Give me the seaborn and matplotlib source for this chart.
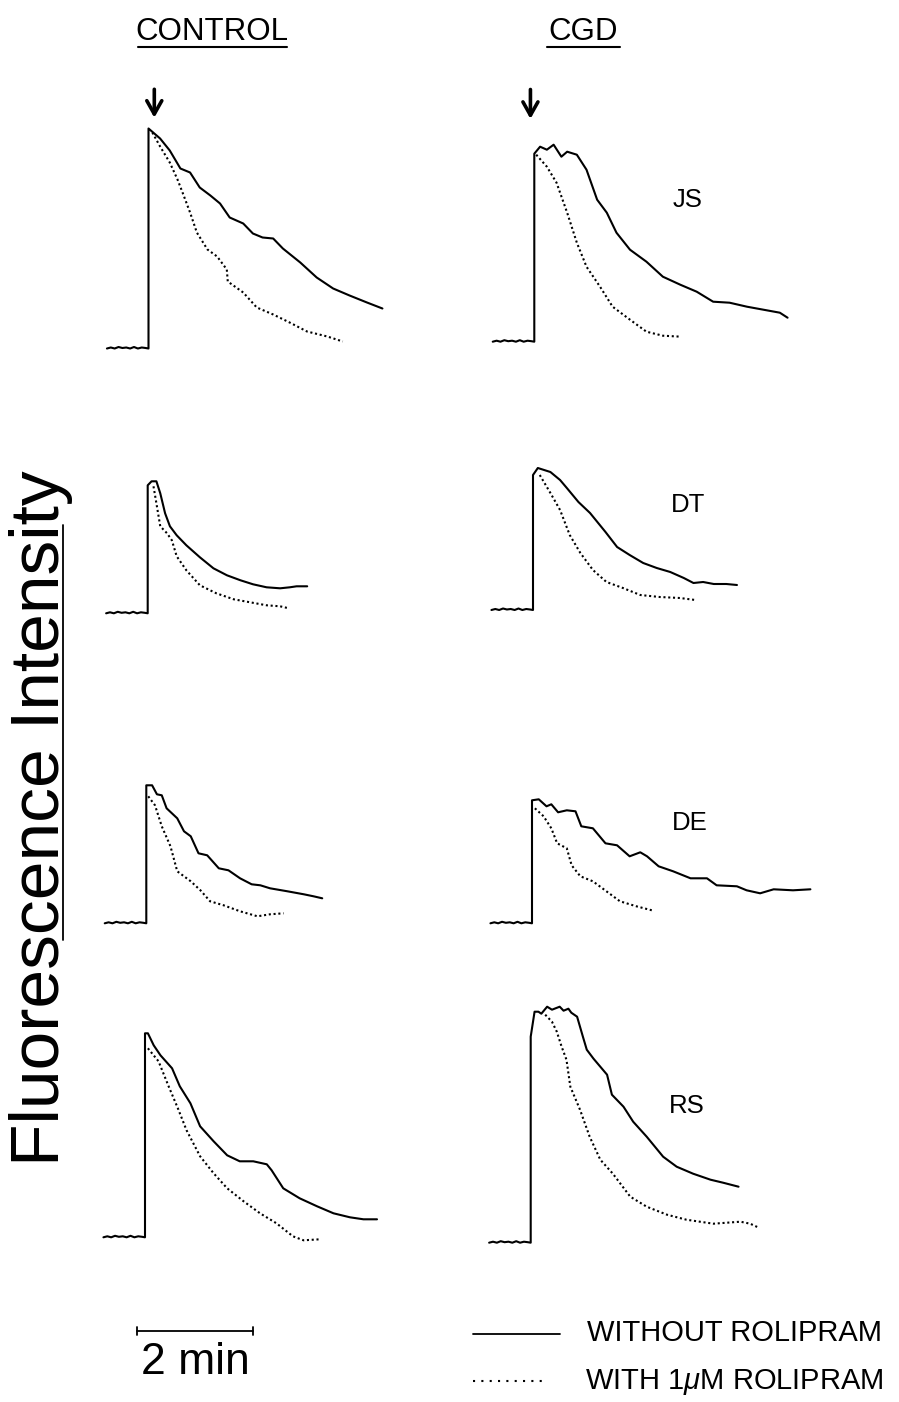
import matplotlib
matplotlib.use('Agg')
import matplotlib.pyplot as plt
import seaborn as sns
from matplotlib.lines import Line2D

sns.set_theme(style='white')
plt.rcParams['font.family'] = ['Liberation Sans', 'DejaVu Sans']
plt.rcParams['mathtext.fontset'] = 'custom'
plt.rcParams['mathtext.it'] = 'Liberation Sans:italic'
plt.rcParams['mathtext.rm'] = 'Liberation Sans'

# ---------------- data (time in s after stimulus, fluorescence in a.u.) -------------
BASE_T = [-43, -39, -35, -31, -27, -23, -19, -15, -11, -7, -3, 0]
BASE_V = [0, 1, 0, 1.5, 0.5, 1, 0, 1.5, 0, 1, 0.5, 0]

CTRL_JS_T = [0, 12, 22, 33, 43, 53, 64, 74, 84, 98, 108, 118, 129, 139, 157, 174, 191, 208, 226, 242]
CTRL_JS_V = [220, 210, 198, 180, 176, 161, 153, 145, 131, 125, 115, 111, 110, 100, 86, 71, 60, 53, 46, 40]
CTRL_JS_RT = [4, 12, 22, 30, 36, 43, 50, 61, 71, 81, 82, 98, 112, 129, 146, 164, 185, 201]
CTRL_JS_RV = [216, 202, 186, 169, 154, 136, 116, 99, 92, 79, 67, 56, 41, 34, 26, 17, 12, 7]

CGD_JS_T = [0, 6, 13, 20, 28, 34, 44, 54, 65, 75, 85, 99, 116, 133, 151, 168, 185, 202, 220, 237, 254, 262]
CGD_JS_V = [188, 195, 192, 197, 185, 190, 187, 172, 142, 129, 109, 92, 80, 65, 57, 50, 40, 39, 35, 32, 29, 24]
CGD_JS_RT = [2, 13, 23, 34, 44, 54, 68, 81, 99, 116, 133, 152]
CGD_JS_RV = [187, 175, 159, 129, 99, 75, 55, 35, 22, 10, 6, 5]

CTRL_DT_T = [0, 4, 9, 13, 18, 23, 30, 40, 54, 68, 82, 96, 109, 123, 137, 147, 154, 165]
CTRL_DT_V = [128, 132, 132, 120, 100, 87, 78, 68, 56, 45, 38, 33, 29, 26, 25, 26, 27, 27]
CTRL_DT_RT = [6, 9, 13, 20, 25, 30, 40, 54, 71, 89, 106, 123, 137, 146]
CTRL_DT_RV = [127, 110, 87, 80, 73, 57, 43, 28, 20, 14, 11, 8, 7, 5]

CGD_DT_T = [0, 5, 18, 28, 35, 47, 59, 75, 87, 100, 114, 128, 142, 156, 166, 176, 187, 200, 211]
CGD_DT_V = [135, 142, 138, 130, 122, 108, 97, 78, 63, 55, 47, 42, 38, 32, 27, 28, 26, 26, 25]
CGD_DT_RT = [7, 18, 28, 38, 49, 62, 76, 93, 111, 131, 152, 168]
CGD_DT_RV = [135, 117, 100, 75, 57, 40, 28, 22, 15, 13, 12, 10]

CTRL_DE_T = [0, 6, 11, 16, 21, 32, 39, 46, 54, 63, 75, 85, 97, 109, 118, 128, 146, 163, 173, 182]
CTRL_DE_V = [138, 138, 129, 128, 115, 105, 92, 87, 70, 68, 55, 53, 45, 39, 38, 35, 32, 29, 27, 25]
CTRL_DE_RT = [2, 9, 16, 25, 32, 46, 56, 66, 80, 97, 115, 128, 142]
CTRL_DE_RV = [127, 118, 97, 77, 52, 42, 33, 22, 18, 12, 7, 9, 10]

CGD_DE_T = [0, 7, 15, 20, 27, 36, 45, 51, 63, 76, 88, 101, 112, 119, 131, 146, 164, 181, 191, 212, 222, 236, 250, 270, 288]
CGD_DE_V = [123, 124, 117, 119, 111, 113, 112, 97, 95, 80, 78, 67, 71, 67, 57, 52, 45, 45, 38, 37, 33, 30, 34, 33, 34]
CGD_DE_RT = [3, 12, 20, 26, 36, 41, 50, 63, 77, 91, 108, 124]
CGD_DE_RV = [115, 107, 95, 80, 75, 58, 47, 42, 32, 22, 17, 13]

CTRL_RS_T = [0, 3, 9, 16, 28, 36, 47, 57, 71, 85, 98, 112, 126, 131, 143, 160, 178, 195, 212, 226, 240]
CTRL_RS_V = [204, 204, 192, 182, 169, 151, 134, 111, 96, 82, 76, 76, 73, 67, 49, 39, 31, 24, 20, 18, 18]
CTRL_RS_RT = [3, 14, 24, 34, 43, 57, 71, 85, 102, 119, 136, 153, 164, 181]
CTRL_RS_RV = [189, 176, 152, 129, 107, 81, 64, 49, 36, 24, 14, 1, -3, -2]

CGD_RS_T = [0, 4, 8, 11, 17, 22, 30, 34, 39, 42, 48, 54, 58, 65, 79, 84, 96, 106, 120, 137, 151, 168, 186, 199, 215]
CGD_RS_V = [206, 231, 231, 229, 236, 233, 236, 232, 234, 230, 226, 206, 193, 184, 168, 148, 136, 121, 106, 86, 76, 69, 63, 60, 56]
CGD_RS_RT = [15, 22, 27, 32, 37, 41, 51, 61, 72, 85, 103, 120, 141, 161, 189, 217, 227, 236]
CGD_RS_RV = [228, 221, 211, 196, 183, 156, 133, 106, 83, 69, 46, 36, 28, 23, 19, 21, 19, 15]

GROUPS = ['CONTROL', 'CGD']
SUBJECTS = ['JS', 'DT', 'DE', 'RS']
SCALE_BAR_S = 120
LEGEND_LABELS = ['WITHOUT ROLIPRAM', r'WITH 1$\mu$M ROLIPRAM']

panels = [
    ('CONTROL', 'JS', CTRL_JS_T, CTRL_JS_V, CTRL_JS_RT, CTRL_JS_RV),
    ('CGD', 'JS', CGD_JS_T, CGD_JS_V, CGD_JS_RT, CGD_JS_RV),
    ('CONTROL', 'DT', CTRL_DT_T, CTRL_DT_V, CTRL_DT_RT, CTRL_DT_RV),
    ('CGD', 'DT', CGD_DT_T, CGD_DT_V, CGD_DT_RT, CGD_DT_RV),
    ('CONTROL', 'DE', CTRL_DE_T, CTRL_DE_V, CTRL_DE_RT, CTRL_DE_RV),
    ('CGD', 'DE', CGD_DE_T, CGD_DE_V, CGD_DE_RT, CGD_DE_RV),
    ('CONTROL', 'RS', CTRL_RS_T, CTRL_RS_V, CTRL_RS_RT, CTRL_RS_RV),
    ('CGD', 'RS', CGD_RS_T, CGD_RS_V, CGD_RS_RT, CGD_RS_RV),
]

# ---------------- layout (pixels) ----------------
W, H = 899, 1402
PX_PER_S = 116 / 120.0
XMIN, XMAX = -50, 300
YMIN, YMAX = -10, 250
ORIGIN = {  # stimulus x pixel, baseline y pixel
    ('CONTROL', 'JS'): (148.5, 348.5), ('CGD', 'JS'): (534.3, 341.7),
    ('CONTROL', 'DT'): (147.7, 613.3), ('CGD', 'DT'): (533.0, 610.0),
    ('CONTROL', 'DE'): (146.3, 923.3), ('CGD', 'DE'): (532.0, 923.3),
    ('CONTROL', 'RS'): (145.0, 1237.3), ('CGD', 'RS'): (530.7, 1242.7),
}
LABEL_POS = {'JS': (688, 200), 'DT': (688, 505), 'DE': (690, 823), 'RS': (687, 1106)}

fig = plt.figure(figsize=(W / 100, H / 100), dpi=100)
fig.patch.set_facecolor('white')

axes = {}
for grp, subj, st, sv, rt, rv in panels:
    x0, base = ORIGIN[(grp, subj)]
    left = x0 + XMIN * PX_PER_S
    width = (XMAX - XMIN) * PX_PER_S
    ax = fig.add_axes([left / W, 1 - (base - YMIN) / H, width / W, (YMAX - YMIN) / H])
    ax.set_xlim(XMIN, XMAX)
    ax.set_ylim(YMIN, YMAX)
    ax.axis('off')
    ax.patch.set_alpha(0)
    tt = BASE_T + st
    vv = BASE_V + sv
    sns.lineplot(x=tt, y=vv, ax=ax, color='black', linewidth=1.5, sort=False,
                 estimator=None, clip_on=False)
    sns.lineplot(x=rt, y=rv, ax=ax, color='black', linewidth=1.5, sort=False,
                 estimator=None, linestyle=(0, (1, 1.3)), clip_on=False)
    axes[(grp, subj)] = ax
    if grp == 'CGD':
        lx, ly = LABEL_POS[subj]
        fig.text(lx / W, 1 - ly / H, subj, ha='center', va='center', fontsize=18.5,
                 color='black')

# stimulus arrows
for (grp, t, tip, top) in [('CONTROL', 6, 228, 262), ('CGD', -4, 220, 255)]:
    ax = axes[(grp, 'JS')]
    ax.annotate('', xy=(t, tip), xytext=(t, top), annotation_clip=False,
                arrowprops=dict(arrowstyle='->,head_length=0.8,head_width=0.45', lw=2.6, color='black'))

# column titles
for name, cx, x1, x2 in [('CONTROL', 212, 138, 287), ('CGD', 583, 547, 620)]:
    fig.text(cx / W, 1 - 32 / H, name, ha='center', va='center', fontsize=22.5, color='black')
    fig.add_artist(Line2D([x1 / W, x2 / W], [1 - 47 / H, 1 - 47 / H], color='black', lw=1.5))

# y label
fig.text(41 / W, 1 - 818 / H, 'Fluorescence Intensity', rotation=90, ha='center', va='center',
         fontsize=50, color='black')
fig.add_artist(Line2D([63 / W, 63 / W], [1 - 525 / H, 1 - 940 / H], color='black', lw=1.3))

# scale bar (2 min) drawn in data units of the bottom-left panel
axr = axes[('CONTROL', 'RS')]
ybar = -94
axr.plot([-8, -8 + SCALE_BAR_S], [ybar, ybar], color='black', lw=1.3, clip_on=False)
for xe in [-8, -8 + SCALE_BAR_S]:
    axr.plot([xe, xe], [ybar - 4, ybar + 4], color='black', lw=1.3, clip_on=False)
fig.text(195 / W, 1 - 1362 / H, '2 min', ha='center', va='center', fontsize=32, color='black')

# legend
fig.add_artist(Line2D([473 / W, 560 / W], [1 - 1334 / H] * 2, color='black', lw=1.3))
fig.add_artist(Line2D([473 / W, 545 / W], [1 - 1381 / H] * 2, color='black', lw=1.5,
                      linestyle=(0, (1, 3))))
fig.text(587 / W, 1 - 1333 / H, LEGEND_LABELS[0], ha='left', va='center', fontsize=21, color='black')
fig.text(585 / W, 1 - 1382 / H, LEGEND_LABELS[1], ha='left', va='center', fontsize=21, color='black')

fig.savefig('out.png', dpi=100, facecolor='white')
